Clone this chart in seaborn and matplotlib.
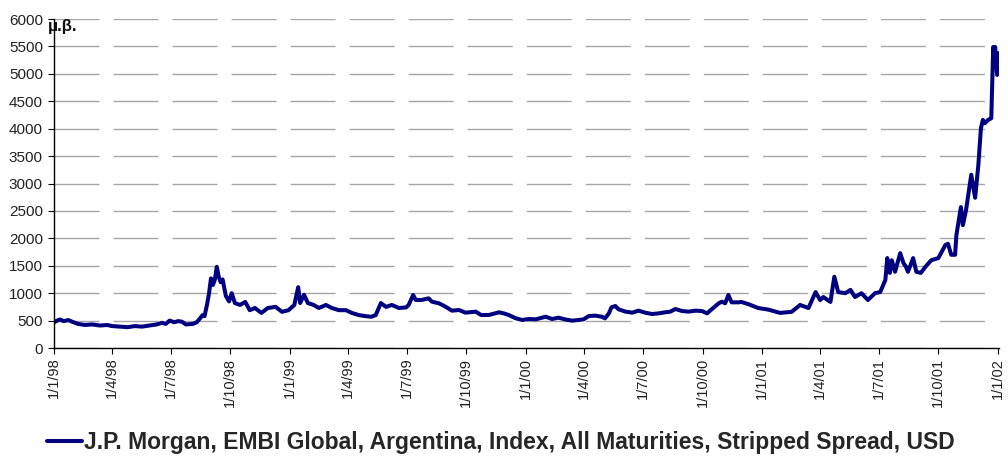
import matplotlib
matplotlib.use("Agg")
import matplotlib.pyplot as plt
import pandas as pd
import seaborn as sns

# EMBI Global Argentina stripped spread (bp)
dates = [
    "1998-01-01", "1998-01-06", "1998-01-10", "1998-01-16", "1998-01-23", "1998-01-29",
    "1998-02-07", "1998-02-18", "1998-03-01", "1998-03-13", "1998-03-24", "1998-04-01",
    "1998-04-13", "1998-04-25", "1998-05-06", "1998-05-17", "1998-05-29", "1998-06-09",
    "1998-06-17", "1998-06-23", "1998-06-29", "1998-07-06", "1998-07-12", "1998-07-18",
    "1998-07-24", "1998-08-04", "1998-08-10", "1998-08-15", "1998-08-19", "1998-08-22",
    "1998-08-26", "1998-08-29", "1998-09-01", "1998-09-04", "1998-09-07", "1998-09-10",
    "1998-09-13", "1998-09-16", "1998-09-19", "1998-09-24", "1998-09-29", "1998-10-03",
    "1998-10-08", "1998-10-16", "1998-10-24", "1998-10-31", "1998-11-08", "1998-11-18",
    "1998-11-28", "1998-12-10", "1998-12-20", "1998-12-30", "1999-01-08", "1999-01-14",
    "1999-01-17", "1999-01-23", "1999-01-29", "1999-02-07", "1999-02-15", "1999-02-26",
    "1999-03-07", "1999-03-18", "1999-03-29", "1999-04-07", "1999-04-18", "1999-04-29",
    "1999-05-07", "1999-05-14", "1999-05-22", "1999-05-30", "1999-06-08", "1999-06-19",
    "1999-06-30", "1999-07-04", "1999-07-11", "1999-07-15", "1999-07-24", "1999-08-04",
    "1999-08-09", "1999-08-20", "1999-08-30", "1999-09-09", "1999-09-20", "1999-09-30",
    "1999-10-16", "1999-10-24", "1999-11-05", "1999-11-21", "1999-11-28", "1999-12-06",
    "1999-12-17", "1999-12-27", "2000-01-06", "2000-01-17", "2000-02-01", "2000-02-11",
    "2000-02-21", "2000-03-03", "2000-03-13", "2000-03-23", "2000-03-31", "2000-04-08",
    "2000-04-18", "2000-04-28", "2000-05-03", "2000-05-09", "2000-05-13", "2000-05-19",
    "2000-05-24", "2000-06-04", "2000-06-14", "2000-06-24", "2000-07-04", "2000-07-15",
    "2000-07-25", "2000-08-04", "2000-08-12", "2000-08-20", "2000-08-30", "2000-09-09",
    "2000-09-20", "2000-09-30", "2000-10-08", "2000-10-15", "2000-10-26", "2000-10-31",
    "2000-11-05", "2000-11-10", "2000-11-15", "2000-11-26", "2000-11-30", "2000-12-11",
    "2000-12-26", "2001-01-11", "2001-01-29", "2001-02-16", "2001-03-01", "2001-03-14",
    "2001-03-25", "2001-04-01", "2001-04-06", "2001-04-17", "2001-04-23", "2001-04-29",
    "2001-05-10", "2001-05-18", "2001-05-25", "2001-06-04", "2001-06-14", "2001-06-25",
    "2001-07-03", "2001-07-11", "2001-07-14", "2001-07-18", "2001-07-21", "2001-07-26",
    "2001-08-03", "2001-08-08", "2001-08-12", "2001-08-15", "2001-08-23", "2001-08-28",
    "2001-09-04", "2001-09-11", "2001-09-20", "2001-10-01", "2001-10-12", "2001-10-16",
    "2001-10-21", "2001-10-27", "2001-10-29", "2001-11-05", "2001-11-08", "2001-11-13",
    "2001-11-21", "2001-11-27", "2001-12-02", "2001-12-06", "2001-12-09", "2001-12-12",
    "2001-12-17", "2001-12-22", "2001-12-25", "2001-12-26", "2001-12-28", "2001-12-31",
    "2002-01-01",
]
spread = [
    470, 500, 520, 490, 510, 480,
    440, 420, 430, 410, 420, 400,
    390, 380, 400, 390, 410, 430,
    460, 440, 500, 470, 490, 480,
    430, 440, 470, 540, 600, 580,
    800, 1000, 1270, 1150, 1250, 1480,
    1300, 1200, 1250, 950, 850, 1000,
    820, 785, 840, 690, 730, 640,
    730, 750, 660, 690, 785, 1110,
    820, 970, 820, 785, 730, 785,
    730, 690, 690, 640, 600, 580,
    570, 600, 820, 750, 785, 730,
    740, 785, 967, 876, 876, 906,
    845, 815, 754, 681, 693, 645,
    663, 602, 602, 651, 632, 602,
    541, 511, 529, 523, 571, 529,
    553, 520, 499, 511, 523, 584,
    590, 571, 541, 632, 742, 766,
    705, 663, 645, 681, 645, 620,
    632, 651, 663, 711, 675, 663,
    681, 675, 632, 705, 815, 845,
    815, 967, 833, 833, 840, 800,
    730, 700, 640, 660, 785, 730,
    1020, 875, 930, 840, 1300, 1020,
    1000, 1060, 930, 1000, 875, 1000,
    1020, 1240, 1640, 1370, 1600, 1390,
    1730, 1550, 1480, 1390, 1640, 1390,
    1370, 1480, 1600, 1640, 1880, 1900,
    1700, 1700, 2060, 2570, 2240, 2520,
    3160, 2740, 3340, 4010, 4160, 4100,
    4160, 4190, 5490, 5250, 5490, 4980,
    5380,
]

series_name = "J.P. Morgan, EMBI Global, Argentina, Index, All Maturities, Stripped Spread, USD"
unit_label = "μ.β."
y_ticks = list(range(0, 6001, 500))
x_ticks = [
    "1998-01-01", "1998-04-01", "1998-07-01", "1998-10-01",
    "1999-01-01", "1999-04-01", "1999-07-01", "1999-10-01",
    "2000-01-01", "2000-04-01", "2000-07-01", "2000-10-01",
    "2001-01-01", "2001-04-01", "2001-07-01", "2001-10-01",
    "2002-01-01",
]
x_tick_labels = [
    "1/1/98", "1/4/98", "1/7/98", "1/10/98",
    "1/1/99", "1/4/99", "1/7/99", "1/10/99",
    "1/1/00", "1/4/00", "1/7/00", "1/10/00",
    "1/1/01", "1/4/01", "1/7/01", "1/10/01",
    "1/1/02",
]

df = pd.DataFrame({"date": pd.to_datetime(dates), "spread": spread})

sns.set_style("white")
plt.rcParams["font.family"] = ["Liberation Sans", "DejaVu Sans"]

fig = plt.figure(figsize=(10.08, 4.59), dpi=100)
ax = fig.add_axes([0.0536, 0.2418, 0.9375, 0.7168])

sns.lineplot(data=df, x="date", y="spread", ax=ax, color="#000080",
             linewidth=2.9, estimator=None, label=series_name, legend=False)

ax.set_xlim(pd.Timestamp("1998-01-01"), pd.Timestamp("2002-01-03"))
ax.set_ylim(0, 6000)
ax.set_yticks(y_ticks)
ax.set_yticklabels([str(v) for v in y_ticks])
ax.set_xticks(pd.to_datetime(x_ticks))
ax.set_xticklabels(x_tick_labels, rotation=90)
ax.set_xlabel("")
ax.set_ylabel("")

# long-dash gridlines like the Excel export
ax.yaxis.grid(True, color="#a6a6a6", linewidth=1.0, linestyle=(0, (32.4, 10.1)))
ax.xaxis.grid(False)
ax.set_axisbelow(True)

for side in ["top", "right"]:
    ax.spines[side].set_visible(False)
for side in ["left", "bottom"]:
    ax.spines[side].set_color("black")
    ax.spines[side].set_linewidth(1.0)

ax.tick_params(axis="y", labelsize=11, pad=4)
ax.tick_params(axis="x", labelsize=10.5, pad=3)
ax.tick_params(axis="both", which="major", direction="out", length=4, width=0.8,
               color="black", labelcolor="#222222", left=True, bottom=True)

fig.text(0.047, 0.942, unit_label, fontsize=12, fontweight="bold",
         ha="left", va="center", color="#111111")

handles, labels = ax.get_legend_handles_labels()
fig.legend(handles, labels, loc="center", bbox_to_anchor=(0.497, 0.035),
           frameon=False, handlelength=1.5, handletextpad=0.1,
           prop={"weight": "bold", "size": 16.5})

fig.savefig("out.png", dpi=100, facecolor="white")
